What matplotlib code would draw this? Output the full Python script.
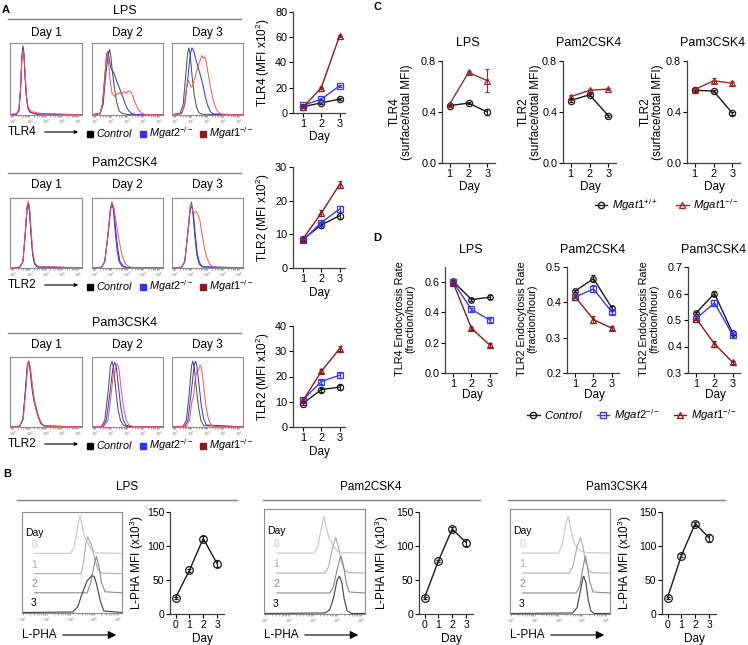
import numpy as np
import matplotlib
matplotlib.use("Agg")
import matplotlib.pyplot as plt
from matplotlib.lines import Line2D
from matplotlib.patches import FancyArrowPatch

plt.rcParams['font.family'] = ['Liberation Sans', 'DejaVu Sans']
plt.rcParams['mathtext.fontset'] = 'custom'
plt.rcParams['mathtext.rm'] = 'Liberation Sans'
plt.rcParams['mathtext.it'] = 'Liberation Sans:italic'
plt.rcParams['font.size'] = 8.5

# ---------------- data ----------------
days3 = [1, 2, 3]
days4 = [0, 1, 2, 3]

# A: TLR MFI (x10^2)
a_lps_ctrl = [5.0, 8.0, 11.0]
a_lps_mg2 = [6.0, 11.0, 21.5]
a_lps_mg1 = [4.5, 20.0, 61.0]
a_p2_ctrl = [8.5, 12.8, 15.5]
a_p2_mg2 = [8.3, 13.5, 17.5]
a_p2_mg1 = [8.7, 16.3, 24.8]
a_p3_ctrl = [9.3, 14.8, 15.8]
a_p3_mg2 = [10.8, 18.0, 20.5]
a_p3_mg1 = [10.5, 22.0, 31.0]
a_err = [0.5, 0.8, 1.0]

# C: surface/total MFI
c_lps_wt = [0.45, 0.47, 0.40]
c_lps_wt_err = [0.01, 0.01, 0.025]
c_lps_ko = [0.46, 0.71, 0.645]
c_lps_ko_err = [0.01, 0.012, 0.09]
c_p2_wt = [0.49, 0.535, 0.37]
c_p2_ko = [0.52, 0.57, 0.58]
c_p3_wt = [0.57, 0.565, 0.39]
c_p3_ko = [0.575, 0.645, 0.625]
c_p3_ko_err = [0.01, 0.02, 0.015]
c_err = [0.01, 0.01, 0.01]

# D: endocytosis rate (fraction/hour)
d_lps_ctrl = [0.605, 0.485, 0.50]
d_lps_mg2 = [0.60, 0.42, 0.35]
d_lps_mg1 = [0.595, 0.295, 0.185]
d_p2_ctrl = [0.432, 0.467, 0.385]
d_p2_mg2 = [0.415, 0.438, 0.373]
d_p2_mg1 = [0.416, 0.351, 0.327]
d_p3_ctrl = [0.527, 0.60, 0.45]
d_p3_mg2 = [0.505, 0.565, 0.443]
d_p3_mg1 = [0.505, 0.41, 0.34]
d_err_lps = [0.008, 0.01, 0.012]
d_err_small = [0.004, 0.01, 0.006]

# B: L-PHA MFI (x10^3)
b_lps = [24, 64, 111, 74]
b_lps_err = [1.5, 2, 3, 5]
b_p2 = [24, 78, 125, 105]
b_p2_err = [1.5, 2, 3, 5]
b_p3 = [24, 86, 133, 112]
b_p3_err = [1.5, 2, 3, 6]

# A histograms: (log10 intensity, % of max)
lps_d1 = {
    "Control": [(1.8,0.5),(2.2,1),(2.35,6),(2.45,35),(2.53,80),(2.6,96),(2.66,88),(2.72,60),(2.8,28),(2.9,10),(3.05,4),(3.4,1.5),(6.2,0.5)],
    "Mgat2": [(1.8,0.5),(2.2,1),(2.35,7),(2.45,38),(2.53,84),(2.6,100),(2.66,90),(2.72,62),(2.8,30),(2.9,11),(3.05,4),(3.4,1.5),(6.2,0.5)],
    "Mgat1": [(1.8,1),(2.2,2),(2.35,8),(2.45,36),(2.53,80),(2.61,94),(2.67,86),(2.74,58),(2.82,27),(2.92,11),(3.1,5),(3.5,3),(4.0,1.5),(6.2,0.5)],
}
lps_d2 = {
    "Control": [(1.8,0.5),(2.3,2),(2.5,15),(2.65,55),(2.8,85),(2.9,95),(2.98,85),(3.08,62),(3.2,40),(3.35,18),(3.5,6),(3.7,2),(4.2,0.5),(6.2,0.3)],
    "Mgat2": [(1.8,0.5),(2.3,2),(2.45,15),(2.6,55),(2.72,88),(2.8,92),(2.9,78),(3.0,66),(3.15,62),(3.3,52),(3.5,40),(3.7,28),(3.9,15),(4.1,6),(4.3,2),(4.6,0.5),(6.2,0.3)],
    "Mgat1": [(1.8,0.5),(2.3,2),(2.45,15),(2.6,55),(2.7,85),(2.77,90),(2.85,72),(2.95,48),(3.05,32),(3.2,27),(3.35,30),(3.5,32),(3.65,30),(3.8,34),(3.95,31),(4.1,35),(4.25,33),(4.35,28),(4.5,18),(4.7,8),(4.9,3),(5.1,1),(6.2,0.3)],
}
lps_d3 = {
    "Control": [(1.8,0.5),(2.3,2),(2.5,15),(2.65,55),(2.78,90),(2.86,97),(2.95,85),(3.05,58),(3.2,28),(3.35,10),(3.5,3),(3.7,1),(6.2,0.3)],
    "Mgat2": [(1.8,0.5),(2.4,2),(2.6,15),(2.8,55),(2.95,88),(3.05,97),(3.15,93),(3.3,80),(3.45,68),(3.6,56),(3.75,42),(3.9,25),(4.05,13),(4.2,5),(4.4,1.5),(6.2,0.3)],
    "Mgat1": [(1.8,0.5),(2.4,2),(2.55,12),(2.7,38),(2.82,50),(2.9,46),(3.0,40),(3.1,42),(3.25,55),(3.4,68),(3.55,78),(3.68,86),(3.75,82),(3.85,84),(3.95,76),(4.1,55),(4.25,35),(4.4,20),(4.55,10),(4.7,4),(4.9,1),(6.2,0.3)],
}
p2_d1 = {
    "Control": [(1.8,0.5),(2.4,1),(2.6,10),(2.75,55),(2.85,90),(2.92,97),(3.0,85),(3.1,50),(3.2,20),(3.32,6),(3.5,1.5),(6.2,0.3)],
    "Mgat2": [(1.8,0.5),(2.4,1),(2.6,9),(2.75,52),(2.86,90),(2.93,96),(3.01,84),(3.1,50),(3.2,20),(3.32,6),(3.5,1.5),(6.2,0.3)],
    "Mgat1": [(1.8,0.5),(2.4,1),(2.6,10),(2.76,56),(2.87,92),(2.94,99),(3.02,88),(3.12,52),(3.22,22),(3.35,7),(3.55,2),(6.2,0.5)],
}
p2_d2 = {
    "Control": [(1.8,0.3),(2.4,1),(2.6,10),(2.8,50),(2.95,88),(3.05,98),(3.15,85),(3.25,55),(3.38,25),(3.5,9),(3.7,2),(4.0,0.5),(6.2,0.3)],
    "Mgat2": [(1.8,0.3),(2.4,1),(2.6,9),(2.8,48),(2.96,86),(3.07,96),(3.17,86),(3.28,58),(3.42,28),(3.55,10),(3.75,3),(4.0,0.5),(6.2,0.3)],
    "Mgat1": [(1.8,0.3),(2.4,1),(2.6,10),(2.8,48),(2.96,88),(3.07,97),(3.18,88),(3.3,70),(3.45,48),(3.6,28),(3.75,14),(3.9,6),(4.1,2),(4.4,0.5),(6.2,0.3)],
}
p2_d3 = {
    "Control": [(1.8,0.3),(2.4,1),(2.6,10),(2.8,55),(2.95,92),(3.02,98),(3.12,80),(3.22,50),(3.35,20),(3.5,6),(3.7,1.5),(6.2,0.3)],
    "Mgat2": [(1.8,0.3),(2.4,1),(2.6,9),(2.8,52),(2.95,88),(3.05,92),(3.15,78),(3.25,52),(3.38,22),(3.52,8),(3.7,2),(6.2,0.3)],
    "Mgat1": [(1.8,0.3),(2.4,1),(2.6,10),(2.8,55),(2.95,92),(3.02,96),(3.1,84),(3.2,82),(3.3,84),(3.42,80),(3.55,70),(3.7,48),(3.85,28),(4.0,14),(4.15,6),(4.35,2),(4.6,0.5),(6.2,0.3)],
}
p3_d1 = {
    "Control": [(1.8,0.5),(2.4,1),(2.6,12),(2.75,55),(2.87,92),(2.95,98),(3.05,82),(3.15,58),(3.28,38),(3.42,25),(3.55,14),(3.7,5),(3.9,1.5),(6.2,0.3)],
    "Mgat2": [(1.8,0.5),(2.4,1),(2.6,11),(2.75,52),(2.88,90),(2.96,97),(3.06,84),(3.18,60),(3.3,40),(3.45,26),(3.6,13),(3.75,5),(3.95,1.5),(6.2,0.3)],
    "Mgat1": [(1.8,0.5),(2.4,1),(2.62,12),(2.77,54),(2.9,92),(2.98,98),(3.08,84),(3.2,58),(3.32,36),(3.48,22),(3.62,11),(3.78,4),(4.0,1),(6.2,0.3)],
}
p3_d2 = {
    "Control": [(1.8,0.3),(2.4,1),(2.6,10),(2.8,50),(2.95,90),(3.05,98),(3.15,88),(3.28,58),(3.42,28),(3.58,10),(3.75,3),(4.0,0.5),(6.2,0.3)],
    "Mgat2": [(1.8,0.3),(2.5,1),(2.7,10),(2.92,50),(3.1,86),(3.22,96),(3.32,90),(3.45,62),(3.6,30),(3.75,11),(3.92,3),(4.2,0.5),(6.2,0.3)],
    "Mgat1": [(1.8,0.3),(2.55,1),(2.8,10),(3.0,48),(3.15,82),(3.22,78),(3.3,90),(3.4,94),(3.5,84),(3.62,58),(3.78,28),(3.95,10),(4.12,3),(4.4,0.5),(6.2,0.3)],
}
p3_d3 = {
    "Control": [(1.8,0.3),(2.5,1),(2.7,10),(2.88,50),(3.02,90),(3.1,98),(3.2,88),(3.32,58),(3.47,28),(3.62,9),(3.8,2),(6.2,0.3)],
    "Mgat2": [(1.8,0.3),(2.6,1),(2.8,10),(3.02,55),(3.18,90),(3.27,98),(3.35,92),(3.48,66),(3.62,35),(3.78,12),(3.95,3),(6.2,0.3)],
    "Mgat1": [(1.8,0.3),(2.7,1),(2.9,10),(3.05,38),(3.15,45),(3.25,70),(3.38,86),(3.45,84),(3.55,92),(3.65,88),(3.78,62),(3.92,32),(4.08,12),(4.25,3),(4.5,0.5),(6.2,0.3)],
}

# B offset histograms: (log10 intensity, fraction of panel height), days 0..3
b_lps_hist = [
    [(2.5,0.59),(4.0,0.59),(4.15,0.65),(4.3,0.85),(4.4,0.97),(4.5,0.85),(4.6,0.75),(4.75,0.68),(4.9,0.62),(5.1,0.595),(6.16,0.59)],
    [(2.5,0.39),(4.45,0.39),(4.55,0.5),(4.65,0.7),(4.73,0.755),(4.8,0.71),(4.9,0.66),(5.0,0.55),(5.15,0.43),(5.3,0.395),(6.16,0.39)],
    [(2.5,0.2),(4.7,0.2),(4.85,0.3),(5.0,0.48),(5.09,0.56),(5.2,0.45),(5.3,0.3),(5.45,0.21),(6.16,0.2)],
    [(2.0,0.005),(4.1,0.01),(4.3,0.06),(4.5,0.2),(4.7,0.32),(4.9,0.37),(5.0,0.36),(5.1,0.28),(5.25,0.12),(5.4,0.02),(6.16,0.005)],
]
b_p2_hist = [
    [(2.5,0.58),(4.05,0.58),(4.2,0.64),(4.35,0.82),(4.45,0.93),(4.55,0.82),(4.68,0.72),(4.82,0.66),(5.0,0.6),(5.2,0.585),(6.16,0.58)],
    [(2.5,0.39),(4.5,0.39),(4.65,0.45),(4.8,0.62),(4.94,0.73),(5.05,0.65),(5.15,0.52),(5.3,0.42),(5.45,0.395),(6.16,0.39)],
    [(2.5,0.2),(4.7,0.2),(4.85,0.26),(5.0,0.42),(5.12,0.53),(5.17,0.55),(5.27,0.46),(5.38,0.3),(5.5,0.21),(6.16,0.2)],
    [(2.0,0.005),(4.5,0.01),(4.7,0.04),(4.85,0.15),(5.0,0.32),(5.1,0.36),(5.2,0.3),(5.3,0.14),(5.42,0.03),(5.6,0.005),(6.16,0.005)],
]
b_p3_hist = [
    [(2.5,0.58),(4.0,0.58),(4.15,0.65),(4.3,0.85),(4.41,0.93),(4.5,0.82),(4.62,0.7),(4.78,0.63),(4.95,0.6),(5.2,0.585),(6.16,0.58)],
    [(2.5,0.39),(4.45,0.39),(4.6,0.45),(4.78,0.64),(4.93,0.73),(5.03,0.64),(5.13,0.5),(5.28,0.41),(5.45,0.392),(6.16,0.39)],
    [(2.5,0.2),(4.75,0.2),(4.9,0.27),(5.03,0.45),(5.13,0.55),(5.22,0.45),(5.32,0.3),(5.45,0.21),(6.16,0.2)],
    [(2.0,0.005),(4.6,0.01),(4.78,0.06),(4.92,0.22),(5.02,0.34),(5.06,0.36),(5.15,0.3),(5.25,0.13),(5.36,0.03),(5.5,0.005),(6.16,0.005)],
]

# ---------------- styles ----------------
hist_colors = {"Control": "#484848", "Mgat2": "#2d2dff", "Mgat1": "#ff5050"}
ctrl = dict(color="#1a1a1a", marker="o")
mg2 = dict(color="#3a3aff", marker="s")
mg1 = dict(color="#8b1a1a", marker="^")
b_day_colors = ["#c8c8c8", "#adadad", "#8a8a8a", "#404040"]
lab_m2 = r"$\mathit{Mgat2}^{-/-}$"
lab_m1 = r"$\mathit{Mgat1}^{-/-}$"

W, H = 748, 645
fig = plt.figure(figsize=(W / 100, H / 100), dpi=100)


def box(x0, y0, x1, y1):
    return fig.add_axes([x0 / W, 1 - y1 / H, (x1 - x0) / W, (y1 - y0) / H])


def txt(x, y, s, **kw):
    kw.setdefault("ha", "center")
    kw.setdefault("va", "center")
    fig.text(x / W, 1 - y / H, s, **kw)


def hline(x0, x1, y):
    fig.add_artist(Line2D([x0 / W, x1 / W], [1 - y / H, 1 - y / H], color="#808080", lw=1))


def arrow(x0, x1, y, scale, lw):
    fig.add_artist(FancyArrowPatch((x0 / W, 1 - y / H), (x1 / W, 1 - y / H),
                                   transform=fig.transFigure, arrowstyle="-|>",
                                   mutation_scale=scale, lw=lw, color="black"))


def hist_frame(ax, xlo, xhi):
    ax.set_xscale("log")
    ax.set_xlim(10 ** xlo, 10 ** xhi)
    ax.set_yticks([])
    ax.set_xticks([1e2, 1e3, 1e4, 1e5, 1e6])
    ax.set_xticklabels([r"$10^%d$" % k for k in range(2, 7)])
    ax.tick_params(axis="x", which="both", direction="out", length=1.2, width=0.4,
                   labelsize=2.8, pad=0.5, colors="#777777")
    for s in ax.spines.values():
        s.set_color("#8c8c8c")
        s.set_linewidth(0.8)


def style_line(ax, xlim, ylim, xticks, yticks, ylabs, fs=7.8):
    ax.set_xlim(*xlim)
    ax.set_ylim(*ylim)
    ax.set_xticks(xticks)
    ax.set_yticks(yticks)
    ax.set_yticklabels(ylabs)
    for s in ["top", "right"]:
        ax.spines[s].set_visible(False)
    for s in ["left", "bottom"]:
        ax.spines[s].set_color("#404040")
        ax.spines[s].set_linewidth(0.9)
    ax.tick_params(direction="out", length=3, width=0.8, labelsize=fs, pad=1.2)
    ax.patch.set_alpha(0)


def series(ax, xs, ys, err, st, ms=4.5):
    ax.errorbar(xs, ys, yerr=err, color=st["color"], marker=st["marker"], mfc="none",
                ms=ms, mew=0.9, lw=1, capsize=1.5, elinewidth=0.8, clip_on=False)


# ---------------- panel A ----------------
txt(2, 10, "A", ha="left", fontweight="bold", fontsize=8)
a_rows = [
    ("LPS", "TLR4", 11, 19, 33, (43, 115), 132, [lps_d1, lps_d2, lps_d3],
     (12, 113), (0, 80), [0, 20, 40, 60, 80], 137, "TLR4 (MFI x10$^2$)",
     [a_lps_ctrl, a_lps_mg2, a_lps_mg1]),
    ("Pam2CSK4", "TLR2", 163, 173, 185, (198, 268), 285, [p2_d1, p2_d2, p2_d3],
     (167, 268), (0, 30), [0, 10, 20, 30], 293, "TLR2 (MFI x10$^2$)",
     [a_p2_ctrl, a_p2_mg2, a_p2_mg1]),
    ("Pam3CSK4", "TLR2", 323, 333, 345, (357, 427), 444, [p3_d1, p3_d2, p3_d3],
     (326, 427), (0, 40), [0, 10, 20, 30, 40], 452, "TLR2 (MFI x10$^2$)",
     [a_p3_ctrl, a_p3_mg2, a_p3_mg1]),
]
hist_x = [(10, 82), (92, 163), (172, 243)]
for (title, marker_name, ty, ly, dy, (by0, by1), legy, hists,
     (ly0, ly1), ylim, yticks, xly, ylab, vals) in a_rows:
    txt(125, ty, title, fontsize=9)
    hline(8, 241, ly)
    for i, (hx0, hx1) in enumerate(hist_x):
        txt((hx0 + hx1) / 2, dy, "Day %d" % (i + 1), fontsize=8.5)
        ax = box(hx0, by0, hx1, by1)
        for name in ["Control", "Mgat2", "Mgat1"]:
            pts = np.array(hists[i][name])
            ax.plot(10 ** pts[:, 0], pts[:, 1], color=hist_colors[name], lw=0.7)
        ax.set_ylim(0, 104)
        hist_frame(ax, 1.8, 6.25)
    txt(8, legy, marker_name, ha="left", fontsize=8.5)
    arrow(42, 81, legy, 5, 0.8)
    handles = [Line2D([], [], color=c, marker="s", ls="none", ms=4)
               for c in ["black", "#3030ff", "#8b1a1a"]]
    fig.legend(handles, [r"$\mathit{Control}$", lab_m2, lab_m1], loc="center",
               bbox_to_anchor=(170 / W, 1 - (legy + 1.5) / H), ncol=3, frameon=False,
               handlelength=0.6, handletextpad=0.25, columnspacing=0.6,
               fontsize=7.8, borderpad=0)
    ax = box(293, ly0, 345, ly1)
    for v, st in zip(vals, [ctrl, mg2, mg1]):
        series(ax, days3, v, a_err, st)
    style_line(ax, (0.45, 3.3), ylim, days3, yticks, [str(t) for t in yticks])
    txt(319, xly, "Day")
    txt(263, (ly0 + ly1) / 2, ylab, rotation=90)

# ---------------- panel B ----------------
txt(3, 474, "B", ha="left", fontweight="bold", fontsize=8)
b_cols = [
    ("LPS", 127, (17, 237), (22, 512, 122, 613), (170, 224), 137, b_lps_hist, b_lps, b_lps_err),
    ("Pam2CSK4", 371, (263, 480), (264, 509, 365, 614), (419, 473), 382, b_p2_hist, b_p2, b_p2_err),
    ("Pam3CSK4", 617, (508, 725), (510, 509, 610, 614), (662, 716), 625, b_p3_hist, b_p3, b_p3_err),
]
for title, tx, (lx0, lx1), (hx0, hy0, hx1, hy1), (px0, px1), ylx, hist, vals, err in b_cols:
    txt(tx, 487, title)
    hline(lx0, lx1, 500)
    ax = box(hx0, hy0, hx1, hy1)
    for k, pts in enumerate(hist):
        pts = np.array(pts)
        ax.plot(10 ** pts[:, 0], pts[:, 1], color=b_day_colors[k], lw=0.8)
    ax.set_ylim(0, 1.0)
    hist_frame(ax, 1.97, 6.16)
    hh = hy1 - hy0
    txt(hx0 + 3, hy0 + 0.21 * hh, "Day", ha="left", fontsize=7.5)
    for k, fr in enumerate([0.61, 0.42, 0.23, 0.04]):
        txt(hx0 + 12, hy1 - fr * hh - 1, str(k), fontsize=7.5,
            color=b_day_colors[k] if k < 3 else "black", va="bottom")
    txt(hx0, 635, "L-PHA", ha="left", fontsize=8.5)
    arrow(hx0 + 38, hx0 + 97, 635, 12, 0.8)
    ax = box(px0, 512, px1, 614)
    series(ax, days4, vals, err, ctrl, ms=5.5)
    style_line(ax, (-0.4, 3.5), (0, 150), days4, [0, 50, 100, 150],
               ["0", "50", "100", "150"], fs=7.5)
    txt((px0 + px1) / 2 + 5, 639, "Day")
    txt(ylx, 563, "L-PHA MFI (x10$^3$)", rotation=90)

# ---------------- panel C ----------------
txt(373, 7, "C", ha="left", fontweight="bold", fontsize=8)
wt = dict(color="#1a1a1a", marker="o")
ko = dict(color="#9b2a2a", marker="^")
c_cols = [
    ("LPS", 442, 401, "TLR4", c_lps_wt, c_lps_wt_err, c_lps_ko, c_lps_ko_err),
    ("Pam2CSK4", 563, 530, "TLR2", c_p2_wt, c_err, c_p2_ko, c_err),
    ("Pam3CSK4", 687, 652, "TLR2", c_p3_wt, c_err, c_p3_ko, c_p3_ko_err),
]
for title, x0, ylx, rec, w, we, k, ke in c_cols:
    ax = box(x0, 61, x0 + 53, 163)
    series(ax, days3, w, we, wt)
    series(ax, days3, k, ke, ko)
    style_line(ax, (0.6, 3.4), (0, 0.8), days3, [0, 0.4, 0.8], ["0.0", "0.4", "0.8"])
    txt(x0 + 26, 43, title, fontsize=9)
    txt(x0 + 27, 187, "Day")
    txt(ylx, 112, rec + "\n(surface/total MFI)", rotation=90, linespacing=1.05)
c_handles = [Line2D([], [], color=wt["color"], marker="o", mfc="none", ms=4.5, lw=1),
             Line2D([], [], color=ko["color"], marker="^", mfc="none", ms=4.5, lw=1)]
fig.legend(c_handles, [r"$\mathit{Mgat1}^{+/+}$", lab_m1], loc="center",
           bbox_to_anchor=(667 / W, 1 - 205 / H), ncol=2, frameon=False,
           handlelength=1.1, handletextpad=0.4, columnspacing=1.6, fontsize=8.2)

# ---------------- panel D ----------------
txt(373, 238, "D", ha="left", fontweight="bold", fontsize=8)
d_cols = [
    ("LPS", 445, 405, "TLR4", (0, 0.7), [0, 0.2, 0.4, 0.6], ["0.0", "0.2", "0.4", "0.6"],
     [d_lps_ctrl, d_lps_mg2, d_lps_mg1], d_err_lps),
    ("Pam2CSK4", 567, 527, "TLR2", (0.2, 0.5), [0.2, 0.3, 0.4, 0.5], ["0.2", "0.3", "0.4", "0.5"],
     [d_p2_ctrl, d_p2_mg2, d_p2_mg1], d_err_small),
    ("Pam3CSK4", 688, 649, "TLR2", (0.3, 0.7), [0.3, 0.4, 0.5, 0.6, 0.7], ["0.3", "0.4", "0.5", "0.6", "0.7"],
     [d_p3_ctrl, d_p3_mg2, d_p3_mg1], d_err_small),
]
for title, x0, ylx, rec, ylim, yt, ytl, vals, err in d_cols:
    ax = box(x0, 267, x0 + 52, 373)
    for v, st in zip(vals, [ctrl, mg2, mg1]):
        series(ax, days3, v, err, st, ms=4)
    style_line(ax, (0.55, 3.4), ylim, days3, yt, ytl)
    txt(x0 + 26, 250, title, fontsize=9)
    txt(x0 + 27, 395, "Day")
    txt(ylx, 319, rec + " Endocytosis Rate\n(fraction/hour)", rotation=90,
        linespacing=1.05, fontsize=7.8)
d_handles = [Line2D([], [], color=st["color"], marker=st["marker"], mfc="none", ms=4.5, lw=1)
             for st in [ctrl, mg2, mg1]]
fig.legend(d_handles, [r"$\mathit{Control}$", lab_m2, lab_m1], loc="center",
           bbox_to_anchor=(632 / W, 1 - 415 / H), ncol=3, frameon=False,
           handlelength=1.1, handletextpad=0.4, columnspacing=1.2, fontsize=8.2)

fig.savefig("out.png", dpi=100)
